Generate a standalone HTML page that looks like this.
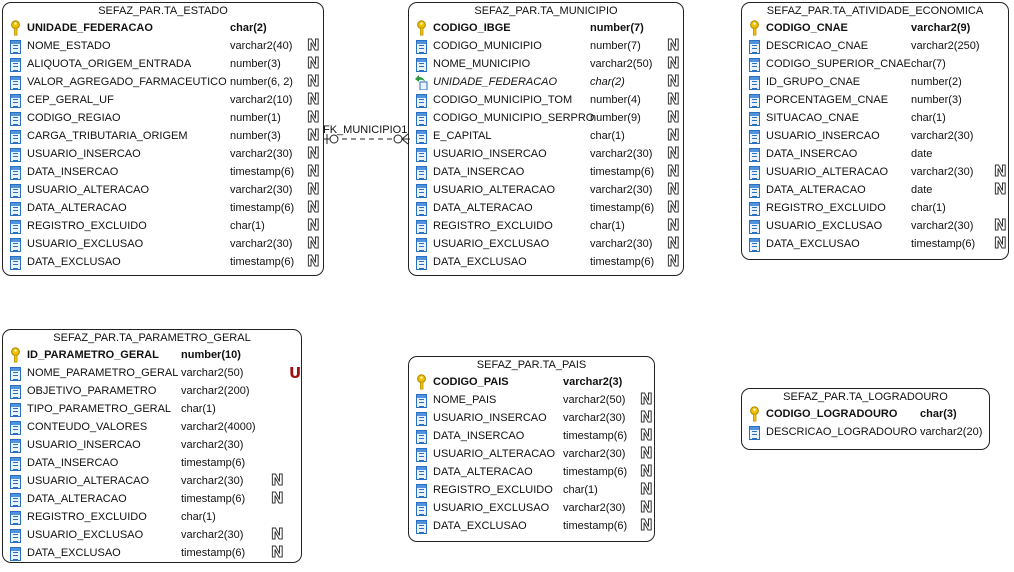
<!DOCTYPE html>
<html><head><meta charset="utf-8">
<style>
*{margin:0;padding:0;box-sizing:border-box}
body{width:1014px;height:572px;background:#fff;position:relative;overflow:hidden;font-family:"Liberation Sans",sans-serif;font-size:11px;color:#111}
.t{position:absolute;border:1px solid #222;border-radius:9px;background:#fff}
.h{height:16px;line-height:16px;text-align:center;font-size:11px}
.r{position:relative;height:18px;line-height:18px;white-space:nowrap}
.r .n{position:absolute;left:24px}
.r .ty{position:absolute}
.r .N{position:absolute;top:-1px;font-weight:bold;font-size:15px;color:#fff;-webkit-text-stroke:1px #333;font-family:"DejaVu Sans",sans-serif}
.r .U{position:absolute;top:0;font-weight:bold;font-size:15px;color:#a01010;font-family:"DejaVu Sans",sans-serif}
.b{font-weight:bold}
.i{font-style:italic}
.ic{position:absolute;left:7px;top:1px;width:11px;height:16px}
.c{position:absolute;left:7px;top:3px;width:11px;height:14px;border:1px solid #2a6fc0;background:linear-gradient(#4f93de 0 3px,#eaf2fb 3px)}
.c::after{content:"";position:absolute;left:2px;top:4px;width:5px;height:6px;border-top:1px solid #2a6fc0;border-bottom:1px solid #2a6fc0;background:linear-gradient(#2a6fc0,#2a6fc0) 0 2px/5px 1px no-repeat}
#e .ty{left:227px}#e .N{left:304px}
#m .ty{left:181px}#m .N{left:258px}
#a .ty{left:169px}#a .N{left:252px}
#p .ty{left:178px}#p .N{left:268px}#p .U{left:286px}
#s .ty{left:154px}#s .N{left:231px}
#l .ty{left:178px}
</style></head><body>
<svg width="0" height="0" style="position:absolute"><defs>
<symbol id="key" viewBox="0 0 10 14"><circle cx="5" cy="4" r="3.5" fill="#f2c200" stroke="#b08a00"/><circle cx="5" cy="3" r="1" fill="#fff"/><rect x="4" y="7" width="2.4" height="6.5" fill="#f2c200" stroke="#b08a00" stroke-width=".6"/></symbol>
</defs></svg>

<div class="t" id="e" style="left:2px;top:2px;width:322px;height:274px">
<div class="h">SEFAZ_PAR.TA_ESTADO</div>
<div class="r"><svg class="ic"><use href="#key"/></svg><span class="n b">UNIDADE_FEDERACAO</span><span class="ty b">char(2)</span></div>
<div class="r"><i class="c"></i><span class="n">NOME_ESTADO</span><span class="ty">varchar2(40)</span><span class="N">N</span></div>
<div class="r"><i class="c"></i><span class="n">ALIQUOTA_ORIGEM_ENTRADA</span><span class="ty">number(3)</span><span class="N">N</span></div>
<div class="r"><i class="c"></i><span class="n">VALOR_AGREGADO_FARMACEUTICO</span><span class="ty">number(6, 2)</span><span class="N">N</span></div>
<div class="r"><i class="c"></i><span class="n">CEP_GERAL_UF</span><span class="ty">varchar2(10)</span><span class="N">N</span></div>
<div class="r"><i class="c"></i><span class="n">CODIGO_REGIAO</span><span class="ty">number(1)</span><span class="N">N</span></div>
<div class="r"><i class="c"></i><span class="n">CARGA_TRIBUTARIA_ORIGEM</span><span class="ty">number(3)</span><span class="N">N</span></div>
<div class="r"><i class="c"></i><span class="n">USUARIO_INSERCAO</span><span class="ty">varchar2(30)</span><span class="N">N</span></div>
<div class="r"><i class="c"></i><span class="n">DATA_INSERCAO</span><span class="ty">timestamp(6)</span><span class="N">N</span></div>
<div class="r"><i class="c"></i><span class="n">USUARIO_ALTERACAO</span><span class="ty">varchar2(30)</span><span class="N">N</span></div>
<div class="r"><i class="c"></i><span class="n">DATA_ALTERACAO</span><span class="ty">timestamp(6)</span><span class="N">N</span></div>
<div class="r"><i class="c"></i><span class="n">REGISTRO_EXCLUIDO</span><span class="ty">char(1)</span><span class="N">N</span></div>
<div class="r"><i class="c"></i><span class="n">USUARIO_EXCLUSAO</span><span class="ty">varchar2(30)</span><span class="N">N</span></div>
<div class="r"><i class="c"></i><span class="n">DATA_EXCLUSAO</span><span class="ty">timestamp(6)</span><span class="N">N</span></div>
</div>

<div class="t" id="m" style="left:408px;top:2px;width:276px;height:274px">
<div class="h">SEFAZ_PAR.TA_MUNICIPIO</div>
<div class="r"><svg class="ic"><use href="#key"/></svg><span class="n b">CODIGO_IBGE</span><span class="ty b">number(7)</span></div>
<div class="r"><i class="c"></i><span class="n">CODIGO_MUNICIPIO</span><span class="ty">number(7)</span><span class="N">N</span></div>
<div class="r"><i class="c"></i><span class="n">NOME_MUNICIPIO</span><span class="ty">varchar2(50)</span><span class="N">N</span></div>
<div class="r"><svg style="position:absolute;left:5px;top:1px" width="14" height="16"><path d="M1 5 L5 1 L5 3 Q10 3 11 8 Q9 5 5 6 L5 8 Z" fill="#2a9a3a"/><rect x="6" y="8" width="7" height="8" fill="#eaf2fb" stroke="#2a6fc0"/></svg><span class="n i">UNIDADE_FEDERACAO</span><span class="ty i">char(2)</span><span class="N">N</span></div>
<div class="r"><i class="c"></i><span class="n">CODIGO_MUNICIPIO_TOM</span><span class="ty">number(4)</span><span class="N">N</span></div>
<div class="r"><i class="c"></i><span class="n">CODIGO_MUNICIPIO_SERPRO</span><span class="ty">number(9)</span><span class="N">N</span></div>
<div class="r"><i class="c"></i><span class="n">E_CAPITAL</span><span class="ty">char(1)</span><span class="N">N</span></div>
<div class="r"><i class="c"></i><span class="n">USUARIO_INSERCAO</span><span class="ty">varchar2(30)</span><span class="N">N</span></div>
<div class="r"><i class="c"></i><span class="n">DATA_INSERCAO</span><span class="ty">timestamp(6)</span><span class="N">N</span></div>
<div class="r"><i class="c"></i><span class="n">USUARIO_ALTERACAO</span><span class="ty">varchar2(30)</span><span class="N">N</span></div>
<div class="r"><i class="c"></i><span class="n">DATA_ALTERACAO</span><span class="ty">timestamp(6)</span><span class="N">N</span></div>
<div class="r"><i class="c"></i><span class="n">REGISTRO_EXCLUIDO</span><span class="ty">char(1)</span><span class="N">N</span></div>
<div class="r"><i class="c"></i><span class="n">USUARIO_EXCLUSAO</span><span class="ty">varchar2(30)</span><span class="N">N</span></div>
<div class="r"><i class="c"></i><span class="n">DATA_EXCLUSAO</span><span class="ty">timestamp(6)</span><span class="N">N</span></div>
</div>

<div class="t" id="a" style="left:741px;top:2px;width:268px;height:258px">
<div class="h">SEFAZ_PAR.TA_ATIVIDADE_ECONOMICA</div>
<div class="r"><svg class="ic"><use href="#key"/></svg><span class="n b">CODIGO_CNAE</span><span class="ty b">varchar2(9)</span></div>
<div class="r"><i class="c"></i><span class="n">DESCRICAO_CNAE</span><span class="ty">varchar2(250)</span></div>
<div class="r"><i class="c"></i><span class="n">CODIGO_SUPERIOR_CNAE</span><span class="ty">char(7)</span></div>
<div class="r"><i class="c"></i><span class="n">ID_GRUPO_CNAE</span><span class="ty">number(2)</span></div>
<div class="r"><i class="c"></i><span class="n">PORCENTAGEM_CNAE</span><span class="ty">number(3)</span></div>
<div class="r"><i class="c"></i><span class="n">SITUACAO_CNAE</span><span class="ty">char(1)</span></div>
<div class="r"><i class="c"></i><span class="n">USUARIO_INSERCAO</span><span class="ty">varchar2(30)</span></div>
<div class="r"><i class="c"></i><span class="n">DATA_INSERCAO</span><span class="ty">date</span></div>
<div class="r"><i class="c"></i><span class="n">USUARIO_ALTERACAO</span><span class="ty">varchar2(30)</span><span class="N">N</span></div>
<div class="r"><i class="c"></i><span class="n">DATA_ALTERACAO</span><span class="ty">date</span><span class="N">N</span></div>
<div class="r"><i class="c"></i><span class="n">REGISTRO_EXCLUIDO</span><span class="ty">char(1)</span></div>
<div class="r"><i class="c"></i><span class="n">USUARIO_EXCLUSAO</span><span class="ty">varchar2(30)</span><span class="N">N</span></div>
<div class="r"><i class="c"></i><span class="n">DATA_EXCLUSAO</span><span class="ty">timestamp(6)</span><span class="N">N</span></div>
</div>

<div class="t" id="p" style="left:2px;top:329px;width:300px;height:234px">
<div class="h">SEFAZ_PAR.TA_PARAMETRO_GERAL</div>
<div class="r"><svg class="ic"><use href="#key"/></svg><span class="n b">ID_PARAMETRO_GERAL</span><span class="ty b">number(10)</span></div>
<div class="r"><i class="c"></i><span class="n">NOME_PARAMETRO_GERAL</span><span class="ty">varchar2(50)</span><span class="U">U</span></div>
<div class="r"><i class="c"></i><span class="n">OBJETIVO_PARAMETRO</span><span class="ty">varchar2(200)</span></div>
<div class="r"><i class="c"></i><span class="n">TIPO_PARAMETRO_GERAL</span><span class="ty">char(1)</span></div>
<div class="r"><i class="c"></i><span class="n">CONTEUDO_VALORES</span><span class="ty">varchar2(4000)</span></div>
<div class="r"><i class="c"></i><span class="n">USUARIO_INSERCAO</span><span class="ty">varchar2(30)</span></div>
<div class="r"><i class="c"></i><span class="n">DATA_INSERCAO</span><span class="ty">timestamp(6)</span></div>
<div class="r"><i class="c"></i><span class="n">USUARIO_ALTERACAO</span><span class="ty">varchar2(30)</span><span class="N">N</span></div>
<div class="r"><i class="c"></i><span class="n">DATA_ALTERACAO</span><span class="ty">timestamp(6)</span><span class="N">N</span></div>
<div class="r"><i class="c"></i><span class="n">REGISTRO_EXCLUIDO</span><span class="ty">char(1)</span></div>
<div class="r"><i class="c"></i><span class="n">USUARIO_EXCLUSAO</span><span class="ty">varchar2(30)</span><span class="N">N</span></div>
<div class="r"><i class="c"></i><span class="n">DATA_EXCLUSAO</span><span class="ty">timestamp(6)</span><span class="N">N</span></div>
</div>

<div class="t" id="s" style="left:408px;top:356px;width:247px;height:186px">
<div class="h">SEFAZ_PAR.TA_PAIS</div>
<div class="r"><svg class="ic"><use href="#key"/></svg><span class="n b">CODIGO_PAIS</span><span class="ty b">varchar2(3)</span></div>
<div class="r"><i class="c"></i><span class="n">NOME_PAIS</span><span class="ty">varchar2(50)</span><span class="N">N</span></div>
<div class="r"><i class="c"></i><span class="n">USUARIO_INSERCAO</span><span class="ty">varchar2(30)</span><span class="N">N</span></div>
<div class="r"><i class="c"></i><span class="n">DATA_INSERCAO</span><span class="ty">timestamp(6)</span><span class="N">N</span></div>
<div class="r"><i class="c"></i><span class="n">USUARIO_ALTERACAO</span><span class="ty">varchar2(30)</span><span class="N">N</span></div>
<div class="r"><i class="c"></i><span class="n">DATA_ALTERACAO</span><span class="ty">timestamp(6)</span><span class="N">N</span></div>
<div class="r"><i class="c"></i><span class="n">REGISTRO_EXCLUIDO</span><span class="ty">char(1)</span><span class="N">N</span></div>
<div class="r"><i class="c"></i><span class="n">USUARIO_EXCLUSAO</span><span class="ty">varchar2(30)</span><span class="N">N</span></div>
<div class="r"><i class="c"></i><span class="n">DATA_EXCLUSAO</span><span class="ty">timestamp(6)</span><span class="N">N</span></div>
</div>

<div class="t" id="l" style="left:741px;top:388px;width:249px;height:62px">
<div class="h">SEFAZ_PAR.TA_LOGRADOURO</div>
<div class="r"><svg class="ic"><use href="#key"/></svg><span class="n b">CODIGO_LOGRADOURO</span><span class="ty b">char(3)</span></div>
<div class="r"><i class="c"></i><span class="n">DESCRICAO_LOGRADOURO</span><span class="ty">varchar2(20)</span></div>
</div>

<div style="position:absolute;left:323px;top:124px;font-size:11px;line-height:12px">FK_MUNICIPIO1</div>
<svg style="position:absolute;left:324px;top:132px" width="86" height="14">
<line x1="0" y1="7" x2="86" y2="7" stroke="#222" stroke-dasharray="5,4"/>
<line x1="0" y1="7" x2="6" y2="7" stroke="#222"/>
<line x1="3" y1="2" x2="3" y2="12" stroke="#222"/>
<circle cx="10" cy="7" r="4" fill="#fff" stroke="#222"/>
<circle cx="74" cy="7" r="4" fill="#fff" stroke="#222"/>
<line x1="78" y1="7" x2="84" y2="7" stroke="#222"/>
<line x1="78" y1="7" x2="84" y2="2" stroke="#222"/>
<line x1="78" y1="7" x2="84" y2="12" stroke="#222"/>
</svg>
</body></html>
